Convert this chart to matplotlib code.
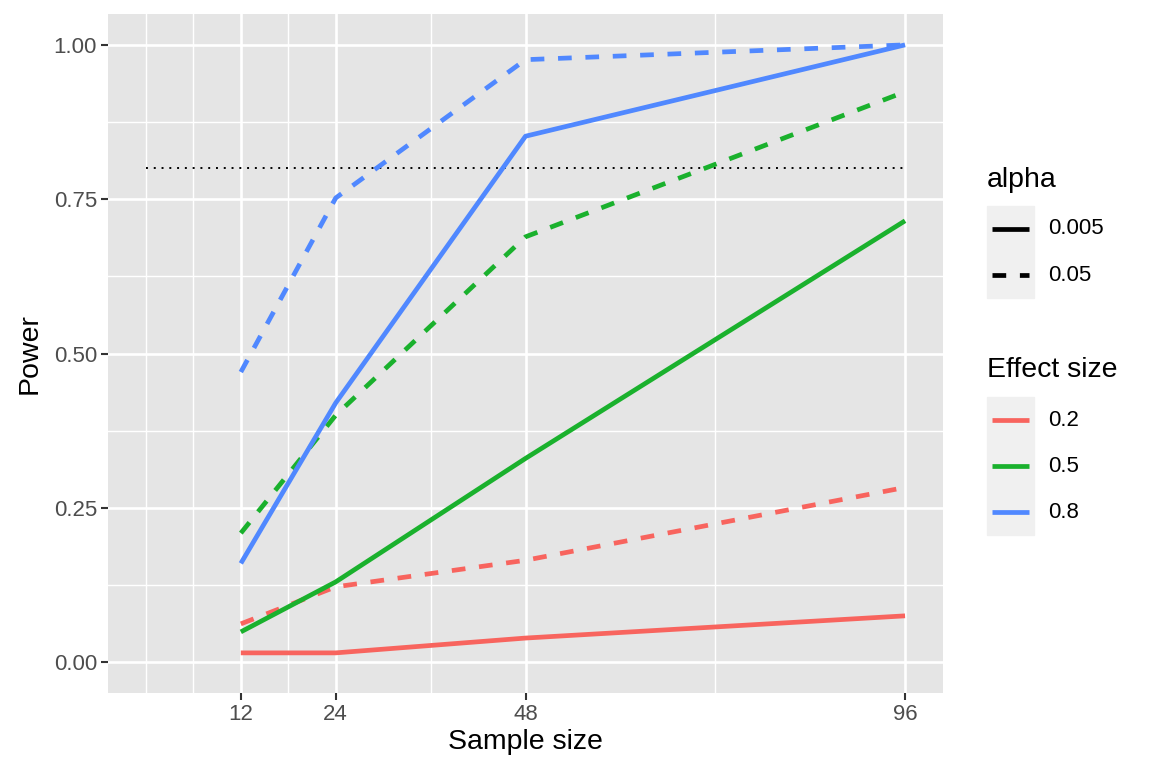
import matplotlib.pyplot as plt
from matplotlib.lines import Line2D
from matplotlib.patches import Rectangle

# Daten
sample_sizes = [12, 24, 48, 96]
effect_sizes = ["0.2", "0.5", "0.8"]
alphas = ["0.005", "0.05"]

power = {
    ("0.2", "0.005"): [0.015, 0.015, 0.039, 0.075],
    ("0.2", "0.05"): [0.062, 0.122, 0.165, 0.283],
    ("0.5", "0.005"): [0.049, 0.130, 0.330, 0.715],
    ("0.5", "0.05"): [0.209, 0.400, 0.689, 0.924],
    ("0.8", "0.005"): [0.160, 0.420, 0.852, 1.000],
    ("0.8", "0.05"): [0.470, 0.752, 0.976, 1.000],
}

target_x = [0, 96]
target_power = [0.8, 0.8]

colors = {"0.2": "#F8645E", "0.5": "#1AB12D", "0.8": "#5088FF"}
styles = {"0.005": "-", "0.05": (0, (2.9, 2.9))}

plt.rcParams["font.family"] = ["Liberation Sans", "DejaVu Sans"]

fig = plt.figure(figsize=(11.52, 7.68), dpi=100)
ax = fig.add_axes([108 / 1152, 75 / 768, 835 / 1152, 679 / 768])
ax.set_facecolor("#E5E5E5")

# Gitterlinien wie bei ggplot
for x in [0, 6, 18, 36, 72]:
    ax.axvline(x, color="white", lw=1.0, zorder=0)
for x in sample_sizes:
    ax.axvline(x, color="white", lw=1.9, zorder=0)
for y in [0.125, 0.375, 0.625, 0.875]:
    ax.axhline(y, color="white", lw=1.0, zorder=0)
for y in [0, 0.25, 0.5, 0.75, 1.0]:
    ax.axhline(y, color="white", lw=1.9, zorder=0)

ax.plot(target_x, target_power, color="black", lw=1.4, ls=(0, (1, 3)), zorder=2)

for eff in effect_sizes:
    for a in alphas:
        ax.plot(sample_sizes, power[(eff, a)], color=colors[eff],
                ls=styles[a], lw=3.4, solid_capstyle="butt", zorder=3)

ax.set_xlim(-4.8, 100.8)
ax.set_ylim(-0.05, 1.05)
ax.set_xticks(sample_sizes)
ax.set_yticks([0, 0.25, 0.5, 0.75, 1.0])
ax.set_yticklabels(["0.00", "0.25", "0.50", "0.75", "1.00"])
ax.tick_params(colors="#333333", labelcolor="#4D4D4D", labelsize=16,
               length=5, width=1.5, pad=3)
for s in ax.spines.values():
    s.set_visible(False)
ax.set_xlabel("Sample size", fontsize=20.5, labelpad=3)
ax.set_ylabel("Power", fontsize=20.5, labelpad=8)

# Legenden von Hand zeichnen (Pixelkoordinaten)
def px(x, y):
    return x / 1152, 1 - y / 768


def legend_block(title, title_y, box_top, entries):
    fig.text(*px(987, title_y), title, fontsize=20.5, va="center", ha="left")
    n = len(entries)
    box_h = 46 * n
    fig.patches.append(Rectangle(px(987, box_top + box_h), 47 / 1152, box_h / 768,
                                 transform=fig.transFigure, color="#F0F0F0",
                                 zorder=0))
    for i, (label, color, ls) in enumerate(entries):
        yc = box_top + 23 + 46 * i
        x0, y0 = px(992, yc)
        x1, _ = px(1029, yc)
        fig.lines.append(Line2D([x0, x1], [y0, y0], transform=fig.transFigure,
                                color=color, ls=ls, lw=3.4,
                                solid_capstyle="butt"))
        fig.text(*px(1048, yc), label, fontsize=16, va="center", ha="left")


legend_block("alpha", 180, 206,
             [(a, "black", styles[a]) for a in alphas])
legend_block("Effect size", 370, 397,
             [(e, colors[e], "-") for e in effect_sizes])

fig.savefig("out.png", dpi=100)
